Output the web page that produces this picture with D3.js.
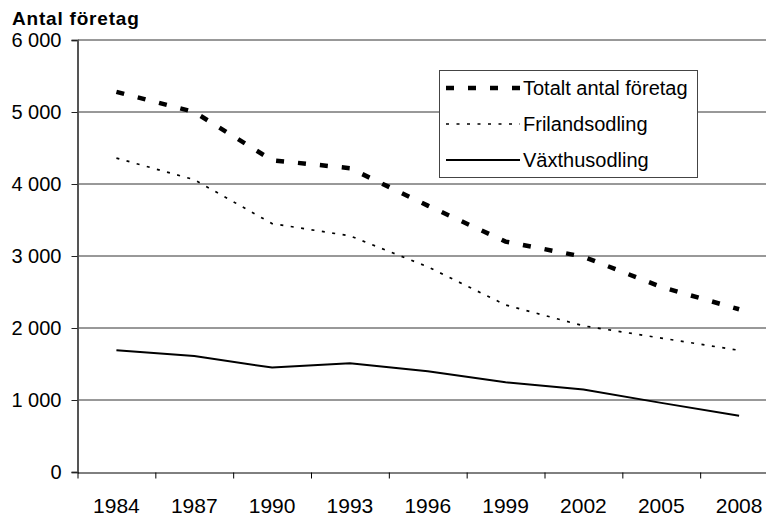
<!DOCTYPE html>
<html>
<head>
<meta charset="utf-8">
<script src="https://cdn.jsdelivr.net/npm/d3@7"></script>
<style>
  body { margin: 0; background: #fff; }
  text { font-family: "Liberation Sans", Arial, sans-serif; fill: #000; }
</style>
</head>
<body>
<script>
// data
var years = [1984, 1987, 1990, 1993, 1996, 1999, 2002, 2005, 2008];
var totalt = [5280, 5000, 4330, 4220, 3700, 3200, 2990, 2570, 2260];
var friland = [4360, 4060, 3450, 3280, 2850, 2320, 2030, 1860, 1690];
var vaxthus = [1690, 1610, 1450, 1510, 1400, 1245, 1145, 960, 780];
var yTicks = [0, 1000, 2000, 3000, 4000, 5000, 6000];
var seriesNames = ["Totalt antal företag", "Frilandsodling", "Växthusodling"];

var width = 766, height = 516;
var svg = d3.select("body").append("svg")
    .attr("width", width)
    .attr("height", height);

// x: each label sits mid way between two tick marks (3 years per step)
var x = d3.scaleLinear().domain([1982.5, 2009.5]).range([77.5, 778]);
var y = d3.scaleLinear().domain([0, 6000]).range([472, 40]);

var fmt = function(d){ return d3.format(",")(d).replace(",", " "); };

// gridlines
svg.append("g").selectAll("line")
    .data(yTicks.filter(function(d){ return d > 0; }))
    .enter().append("line")
    .attr("x1", 78).attr("x2", width)
    .attr("y1", function(d){ return y(d); })
    .attr("y2", function(d){ return y(d); })
    .attr("stroke", "#333")
    .attr("stroke-width", 1);

// y axis
var yAxis = svg.append("g")
    .attr("transform", "translate(77.5,0)")
    .call(d3.axisLeft(y).tickValues(yTicks).tickFormat(fmt).tickSize(6).tickPadding(10));
yAxis.select(".domain").attr("stroke", "#555").attr("stroke-width", 2);
yAxis.selectAll(".tick line").attr("stroke", "#222");
yAxis.selectAll("text").style("font-size", "20px").attr("fill", "#000");

// x axis: ticks between the labels
var tickYears = d3.range(0, 9).map(function(i){ return 1982.5 + 3 * i; });
var xAxis = svg.append("g")
    .attr("transform", "translate(0,472.5)")
    .call(d3.axisBottom(x).tickValues(tickYears).tickFormat("").tickSize(6).tickSizeOuter(0));
xAxis.select(".domain").attr("stroke", "#000").attr("stroke-width", 1);
xAxis.selectAll(".tick line").attr("stroke", "#000");

svg.append("g").selectAll("text")
    .data(years)
    .enter().append("text")
    .attr("x", function(d){ return x(d); })
    .attr("y", 513)
    .attr("text-anchor", "middle")
    .style("font-size", "21px")
    .text(function(d){ return d; });

// title
svg.append("text")
    .attr("x", 12)
    .attr("y", 25)
    .style("font-size", "19px")
    .style("font-weight", "bold")
    .style("letter-spacing", "0.8px")
    .text("Antal företag");

// lines
var styles = [
  { values: totalt, width: 4.5, dash: "8,14" },
  { values: friland, width: 1.7, dash: "3,7.5" },
  { values: vaxthus, width: 2, dash: null }
];

var line = d3.line()
    .x(function(d, i){ return x(years[i]); })
    .y(function(d){ return y(d); });

styles.forEach(function(s){
  svg.append("path")
    .datum(s.values)
    .attr("d", line)
    .attr("fill", "none")
    .attr("stroke", "#000")
    .attr("stroke-width", s.width)
    .attr("stroke-dasharray", s.dash);
});

// legend
var legend = svg.append("g");
legend.append("rect")
    .attr("x", 439.5).attr("y", 70.5)
    .attr("width", 258).attr("height", 107)
    .attr("fill", "#fff")
    .attr("stroke", "#444")
    .attr("stroke-width", 1);

seriesNames.forEach(function(name, i){
  var ly = 88 + i * 36;
  legend.append("line")
    .attr("x1", 446).attr("x2", 520)
    .attr("y1", ly).attr("y2", ly)
    .attr("stroke", "#000")
    .attr("stroke-width", styles[i].width)
    .attr("stroke-dasharray", styles[i].dash);
  legend.append("text")
    .attr("x", 523)
    .attr("y", ly + 7)
    .style("font-size", "20px")
    .text(name);
});
</script>
</body>
</html>
